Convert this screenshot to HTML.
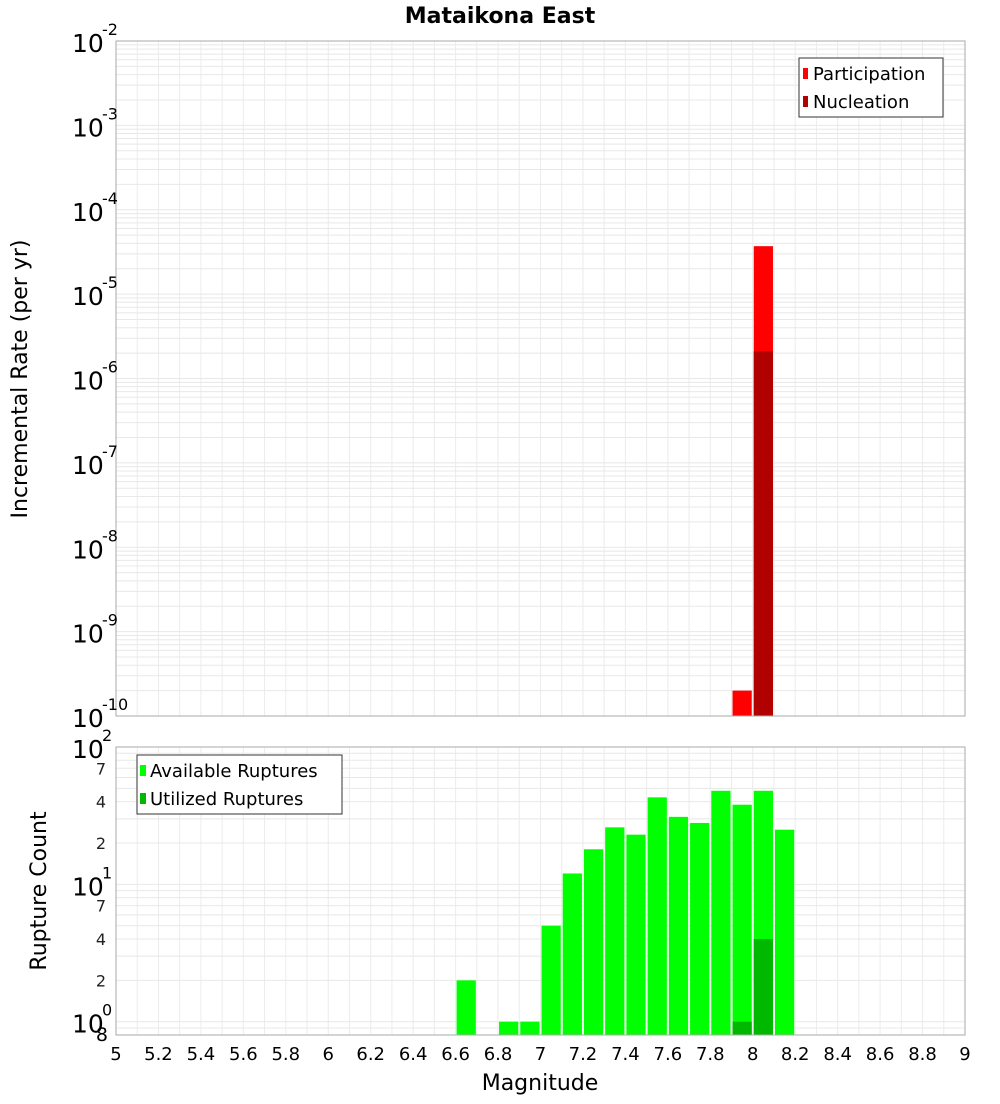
<!DOCTYPE html>
<html><head><meta charset="utf-8"><style>
body{margin:0;background:#fff;font-family:"DejaVu Sans","Liberation Sans",sans-serif}
svg text{font-family:"DejaVu Sans","Liberation Sans",sans-serif}
</style></head><body>
<svg id="c" width="1000" height="1100" xmlns="http://www.w3.org/2000/svg">
<rect width="1000" height="1100" fill="#fff"/>
<text x="500" y="23" text-anchor="middle" font-size="22" font-weight="bold">Mataikona East</text>
<g id="topplot"></g>
<g id="botplot"></g>
<text transform="translate(27,379) rotate(-90)" text-anchor="middle" font-size="22">Incremental Rate (per yr)</text>
<text transform="translate(46,891) rotate(-90)" text-anchor="middle" font-size="22">Rupture Count</text>
<text x="540" y="1090" text-anchor="middle" font-size="22">Magnitude</text>
</svg>
<script>
const binCenters=[6.65,6.85,6.95,7.05,7.15,7.25,7.35,7.45,7.55,7.65,7.75,7.85,7.95,8.05,8.15];
const available=[2,1,1,5,12,18,26,23,43,31,28,48,38,48,25];
const utilizedCenters=[7.95,8.05];
const utilized=[1,4];
const rateCenters=[7.95,8.05];
const participation=[2e-10,3.7e-5];
const nucleation=[0,2.1e-6];
const xTicks=[5,5.2,5.4,5.6,5.8,6,6.2,6.4,6.6,6.8,7,7.2,7.4,7.6,7.8,8,8.2,8.4,8.6,8.8,9];

const NS="http://www.w3.org/2000/svg";
const L=116,R=965;
const xs=v=>L+(v-5)/4*(R-L);
const T1=41,B1=716,T2=747,B2=1035;
const ys1=v=>B1-(Math.log10(v)+10)/8*(B1-T1);
const yMin2=0.8;
const ys2=v=>B2-(Math.log10(v)-Math.log10(yMin2))/(2-Math.log10(yMin2))*(B2-T2);
function mk(p,tag,a,txt){const e=document.createElementNS(NS,tag);for(const k in a)e.setAttribute(k,a[k]);if(txt!==undefined)e.textContent=txt;p.appendChild(e);return e;}
const gTop=document.getElementById('topplot'),gBot=document.getElementById('botplot');

function grid(g,T,B,ys,decs){
  mk(g,'rect',{x:L,y:T,width:R-L,height:B-T,fill:'#fff'});
  for(let k=0;k<=40;k++){const x=xs(5+k*0.1);mk(g,'line',{x1:x,x2:x,y1:T,y2:B,stroke:'#ececec','stroke-width':1});}
  decs.forEach(d=>{for(let m=1;m<10;m++){const v=m*Math.pow(10,d);const y=ys(v);if(y<T-0.5||y>B+0.5)continue;mk(g,'line',{x1:L,x2:R,y1:y,y2:y,stroke:'#e8e8e8','stroke-width':1});}});
}
grid(gTop,T1,B1,ys1,[-10,-9,-8,-7,-6,-5,-4,-3,-2]);
const bw=(xs(5.1)-xs(5))-2;
rateCenters.forEach((c,i)=>{
  const y=ys1(participation[i]);
  const r=mk(gTop,'rect',{x:xs(c)-bw/2,y:y,width:bw,height:B1-y,fill:'#ff0000'});
  
  
  if(nucleation[i]>0){const y2=ys1(nucleation[i]);
  const n=mk(gTop,'rect',{x:xs(c)-bw/2,y:y2,width:bw,height:B1-y2,fill:'#b00000'});
  
  }
});
mk(gTop,'rect',{x:L,y:T1,width:R-L,height:B1-T1,fill:'none',stroke:'#aaa'});
for(let d=-10;d<=-2;d++){const y=ys1(Math.pow(10,d));
  const t=mk(gTop,'text',{x:72,y:y+11,'font-size':25},'10');
  
  
  mk(gTop,'text',{x:102,y:y-6,'font-size':16},String(d));
}
mk(gTop,'rect',{x:799,y:58,width:144,height:59,fill:'#fff',stroke:'#333'});
mk(gTop,'rect',{x:803,y:68,width:5,height:11,fill:'#ff0000'});
mk(gTop,'text',{x:813,y:80,'font-size':18},'Participation');
mk(gTop,'rect',{x:803,y:96,width:5,height:11,fill:'#b00000'});
mk(gTop,'text',{x:813,y:108,'font-size':18},'Nucleation');

grid(gBot,T2,B2,ys2,[-1,0,1]);
binCenters.forEach((c,i)=>{const y=ys2(available[i]);
  const r=mk(gBot,'rect',{x:xs(c)-bw/2,y:y,width:bw,height:B2-y,fill:'#00ff00'});
  
  
});
utilizedCenters.forEach((c,i)=>{const y=ys2(utilized[i]);
  const r=mk(gBot,'rect',{x:xs(c)-bw/2,y:y,width:bw,height:B2-y,fill:'#00b800'});
  
  
});
mk(gBot,'rect',{x:L,y:T2,width:R-L,height:B2-T2,fill:'none',stroke:'#aaa'});
[0,1,2].forEach(d=>{const y=ys2(Math.pow(10,d));
  mk(gBot,'text',{x:72,y:y+11,'font-size':25},'10');
  mk(gBot,'text',{x:102,y:y-6,'font-size':16},String(d));});
[[2,0],[4,0],[7,0],[2,1],[4,1],[7,1]].forEach(([m,d])=>{const y=ys2(m*Math.pow(10,d));
  mk(gBot,'text',{x:106,y:y+6,'font-size':16,'text-anchor':'end',fill:'#222'},String(m));});
mk(gBot,'text',{x:108,y:1041,'font-size':19,'text-anchor':'end'},'8');
mk(gBot,'rect',{x:137,y:755,width:205,height:59,fill:'#fff',stroke:'#333'});
mk(gBot,'rect',{x:140,y:765,width:6,height:11,fill:'#00ff00'});
mk(gBot,'text',{x:150,y:777,'font-size':18},'Available Ruptures');
mk(gBot,'rect',{x:140,y:793,width:6,height:11,fill:'#00b800'});
mk(gBot,'text',{x:150,y:805,'font-size':18},'Utilized Ruptures');
xTicks.forEach(v=>{const t=mk(gBot,'text',{x:xs(v),y:1060,'font-size':18,'text-anchor':'middle'},String(v));
  
  });
</script>
</body></html>
